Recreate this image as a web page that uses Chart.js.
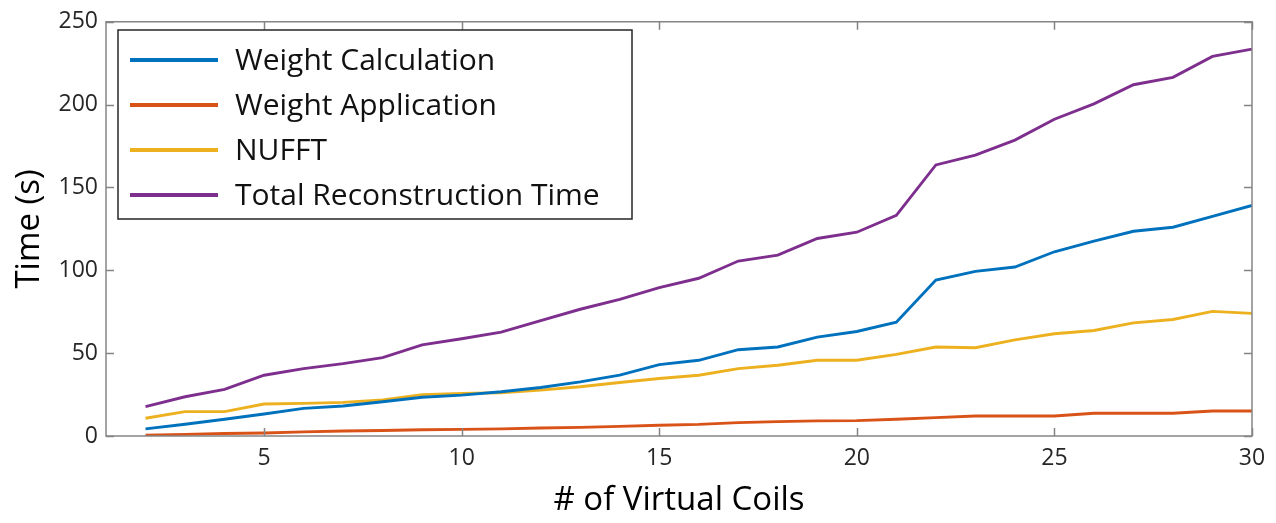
<!DOCTYPE html>
<html>
<head>
<meta charset="utf-8">
<script src="https://cdn.jsdelivr.net/npm/chart.js@4.4.1/dist/chart.umd.min.js"></script>
<style>
  html, body { margin: 0; padding: 0; background: #ffffff; }
  #wrap { width: 1276px; height: 523px; }
</style>
</head>
<body>
<div id="wrap"><canvas id="chart" width="1276" height="523"></canvas></div>
<script>
// Number of virtual coils (x) and timings in seconds
const coils = [2, 3, 4, 5, 6, 7, 8, 9, 10, 11, 12, 13, 14, 15, 16, 17, 18, 19, 20, 21, 22, 23, 24, 25, 26, 27, 28, 29, 30];

const weightCalculation = [4.3, 7.1, 10.1, 13.3, 16.7, 18.1, 20.7, 23.4, 24.7, 26.7, 29.3, 32.7, 36.7, 43.1, 45.7, 52.1, 53.7, 59.7, 63.1, 68.7, 94.1, 99.4, 102.0, 111.2, 117.6, 123.6, 126.0, 132.6, 139.2];
const weightApplication = [0.5, 1.0, 1.5, 1.8, 2.5, 3.0, 3.3, 3.8, 4.0, 4.3, 4.8, 5.2, 5.8, 6.5, 7.0, 8.1, 8.7, 9.1, 9.3, 10.1, 11.1, 12.1, 12.1, 12.1, 13.7, 13.7, 13.7, 15.1, 15.1];
const nufft = [10.7, 14.7, 14.7, 19.3, 19.7, 20.3, 21.7, 25.0, 25.7, 26.1, 27.7, 29.7, 32.3, 34.7, 36.7, 40.7, 42.7, 45.7, 45.7, 49.3, 53.7, 53.3, 58.0, 61.7, 63.7, 68.3, 70.3, 75.2, 74.0];
const totalReconstruction = [17.7, 23.7, 28.1, 36.7, 40.7, 43.7, 47.3, 55.0, 58.7, 62.7, 69.7, 76.5, 82.5, 89.6, 95.2, 105.6, 109.2, 119.2, 123.0, 133.2, 163.6, 169.5, 178.6, 191.2, 200.5, 212.0, 216.5, 229.1, 233.5];

const seriesNames = ['Weight Calculation', 'Weight Application', 'NUFFT', 'Total Reconstruction Time'];
const seriesColors = ['#0072BD', '#D95319', '#EDB120', '#7E2F8E'];

const xTickValues = [5, 10, 15, 20, 25, 30];
const yTickValues = [0, 50, 100, 150, 200, 250];

const FONT = "'Open Sans', 'Noto Sans', sans-serif";

function toPoints(values) {
  return coils.map((c, i) => ({ x: c, y: values[i] }));
}

// Box around the axes with tick marks pointing inward on all four sides
const axesBox = {
  id: 'axesBox',
  afterDatasetsDraw(chart) {
    const { ctx, chartArea: a, scales } = chart;
    const len = 8;
    ctx.save();
    ctx.strokeStyle = '#858585';
    ctx.lineWidth = 1.5;
    ctx.beginPath();
    ctx.rect(a.left, a.top, a.right - a.left, a.bottom - a.top);
    ctx.stroke();
    ctx.beginPath();
    scales.x.ticks.forEach(t => {
      const px = Math.round(scales.x.getPixelForValue(t.value)) + 0.5;
      ctx.moveTo(px, a.bottom); ctx.lineTo(px, a.bottom - len);
      ctx.moveTo(px, a.top); ctx.lineTo(px, a.top + len);
    });
    scales.y.ticks.forEach(t => {
      const py = Math.round(scales.y.getPixelForValue(t.value)) + 0.5;
      ctx.moveTo(a.left, py); ctx.lineTo(a.left + len, py);
      ctx.moveTo(a.right, py); ctx.lineTo(a.right - len, py);
    });
    ctx.stroke();
    ctx.restore();
  }
};

// Boxed legend in the upper-left corner of the plot
const boxedLegend = {
  id: 'boxedLegend',
  afterDraw(chart) {
    const { ctx } = chart;
    const box = { x: 118, y: 30, w: 514, h: 189 };
    const rowY = [60, 105, 150, 195];
    ctx.save();
    ctx.fillStyle = '#ffffff';
    ctx.fillRect(box.x, box.y, box.w, box.h);
    ctx.strokeStyle = '#262626';
    ctx.lineWidth = 1.5;
    ctx.strokeRect(box.x, box.y, box.w, box.h);
    ctx.font = '30px ' + FONT;
    ctx.textBaseline = 'middle';
    ctx.textAlign = 'left';
    chart.data.datasets.forEach((ds, i) => {
      ctx.strokeStyle = ds.borderColor;
      ctx.lineWidth = 4;
      ctx.beginPath();
      ctx.moveTo(130, rowY[i]);
      ctx.lineTo(218, rowY[i]);
      ctx.stroke();
      ctx.fillStyle = '#111111';
      ctx.fillText(ds.label, 235, rowY[i] + 1);
    });
    ctx.restore();
  }
};

new Chart(document.getElementById('chart'), {
  type: 'line',
  data: {
    datasets: [weightCalculation, weightApplication, nufft, totalReconstruction].map((vals, i) => ({
      label: seriesNames[i],
      data: toPoints(vals),
      borderColor: seriesColors[i],
      backgroundColor: seriesColors[i],
      borderWidth: 2.9,
      pointRadius: 0,
      tension: 0,
      fill: false
    }))
  },
  options: {
    responsive: false,
    animation: false,
    devicePixelRatio: 1,
    layout: { padding: { top: 18, right: 24, left: 0, bottom: 0 } },
    plugins: {
      legend: { display: false },
      tooltip: { enabled: false }
    },
    scales: {
      x: {
        type: 'linear',
        min: 1,
        max: 30,
        afterBuildTicks: s => { s.ticks = xTickValues.map(v => ({ value: v })); },
        afterFit: s => { s.height = 87; },
        grid: { display: false, drawTicks: false },
        border: { display: false },
        ticks: {
          padding: 9,
          color: '#262626',
          font: { family: FONT, size: 23 },
          maxRotation: 0,
          callback: v => String(v)
        },
        title: {
          display: true,
          text: '# of Virtual Coils',
          color: '#000000',
          font: { family: FONT, size: 33 },
          padding: { top: 0, bottom: 3 }
        }
      },
      y: {
        type: 'linear',
        min: 0,
        max: 250,
        afterBuildTicks: s => { s.ticks = yTickValues.map(v => ({ value: v })); },
        afterFit: s => { s.width = 106; },
        grid: { display: false, drawTicks: false },
        border: { display: false },
        ticks: {
          padding: 8,
          color: '#262626',
          font: { family: FONT, size: 23 },
          callback: v => String(v)
        },
        title: {
          display: true,
          text: 'Time (s)',
          color: '#000000',
          font: { family: FONT, size: 33 },
          padding: { top: 10, bottom: 0 }
        }
      }
    }
  },
  plugins: [axesBox, boxedLegend]
});
</script>
</body>
</html>
